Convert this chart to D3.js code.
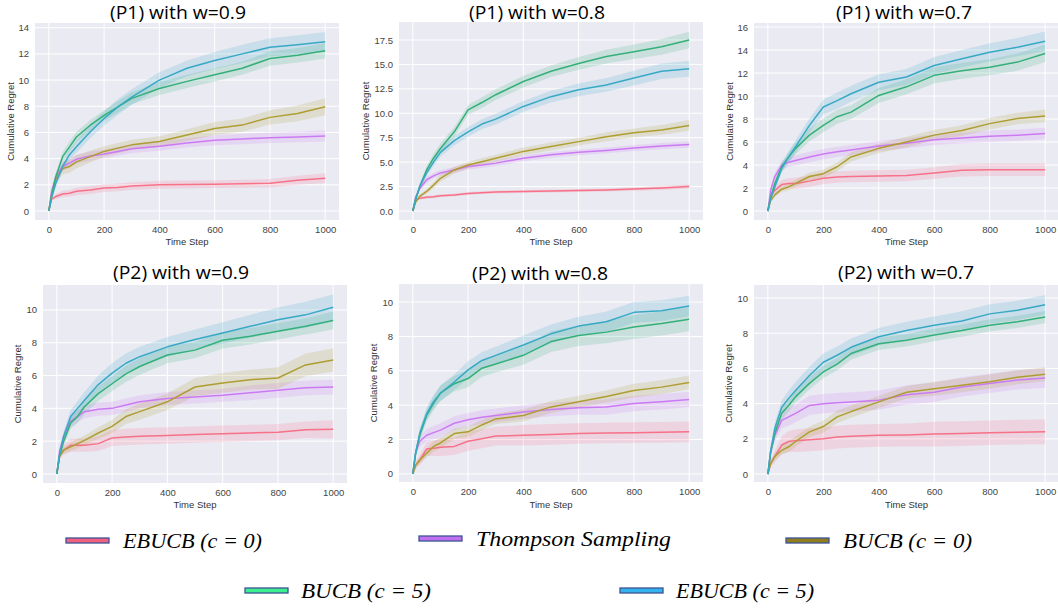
<!DOCTYPE html>
<html>
<head>
<meta charset="utf-8">
<script src="https://cdn.jsdelivr.net/npm/d3@7"></script>
<style>
  html, body { margin: 0; padding: 0; background: #ffffff; }
  svg { display: block; }
</style>
</head>
<body>
<svg id="chart" width="1058" height="608"></svg>
<script>
// ---------------- DATA ----------------
const steps = [0, 10, 25, 50, 75, 100, 150, 200, 250, 300, 400, 500, 600, 700, 800, 900, 1000];
const seriesNames = ["EBUCB (c = 0)", "Thompson Sampling", "BUCB (c = 0)", "BUCB (c = 5)", "EBUCB (c = 5)"];
const panelTitles = ["(P1) with w=0.9", "(P1) with w=0.8", "(P1) with w=0.7",
                     "(P2) with w=0.9", "(P2) with w=0.8", "(P2) with w=0.7"];
const xTicks = [0, 200, 400, 600, 800, 1000];
const yTicksP1w09 = [0, 2, 4, 6, 8, 10, 12, 14];
const yTicksP1w08 = [0, 2.5, 5, 7.5, 10, 12.5, 15, 17.5];
const yTicksP1w07 = [0, 2, 4, 6, 8, 10, 12, 14, 16];
const yTicksP2 = [0, 2, 4, 6, 8, 10];

// (P1) w=0.9 — means
const p1w09_ebucb0 = [0, 0.9, 1.1, 1.3, 1.35, 1.5, 1.6, 1.75, 1.8, 1.9, 2.0, 2.02, 2.05, 2.08, 2.12, 2.35, 2.5];
const p1w09_ts     = [0, 1.5, 2.6, 3.4, 3.65, 3.95, 4.2, 4.35, 4.55, 4.75, 4.95, 5.2, 5.4, 5.5, 5.6, 5.65, 5.72];
const p1w09_bucb0  = [0, 1.2, 2.4, 3.25, 3.4, 3.75, 4.15, 4.55, 4.8, 5.05, 5.3, 5.8, 6.3, 6.56, 7.15, 7.45, 7.96];
const p1w09_bucb5  = [0, 1.2, 2.6, 4.15, 4.9, 5.65, 6.55, 7.3, 7.95, 8.6, 9.35, 9.9, 10.4, 10.9, 11.65, 11.9, 12.24];
const p1w09_ebucb5 = [0, 1.0, 2.1, 3.4, 4.3, 4.9, 6.05, 7.07, 7.95, 8.7, 10.0, 10.9, 11.5, 12.0, 12.5, 12.7, 12.93];
// (P1) w=0.9 — band half-widths
const p1w09_ebucb0_ci = [0, 0.1, 0.2, 0.25, 0.25, 0.3, 0.3, 0.3, 0.3, 0.3, 0.3, 0.3, 0.3, 0.3, 0.32, 0.35, 0.38];
const p1w09_ts_ci     = [0, 0.2, 0.3, 0.35, 0.35, 0.35, 0.35, 0.35, 0.35, 0.35, 0.35, 0.35, 0.38, 0.4, 0.4, 0.4, 0.42];
const p1w09_bucb0_ci  = [0, 0.2, 0.3, 0.45, 0.5, 0.5, 0.45, 0.4, 0.4, 0.4, 0.4, 0.45, 0.5, 0.5, 0.55, 0.6, 0.65];
const p1w09_bucb5_ci  = [0, 0.2, 0.3, 0.35, 0.4, 0.4, 0.4, 0.4, 0.45, 0.45, 0.5, 0.5, 0.5, 0.5, 0.55, 0.55, 0.6];
const p1w09_ebucb5_ci = [0, 0.2, 0.3, 0.35, 0.4, 0.45, 0.5, 0.55, 0.6, 0.6, 0.6, 0.6, 0.65, 0.7, 0.7, 0.72, 0.75];

// (P1) w=0.8
const p1w08_ebucb0 = [0, 1.1, 1.3, 1.4, 1.45, 1.55, 1.65, 1.8, 1.88, 1.95, 2.0, 2.05, 2.1, 2.15, 2.25, 2.35, 2.5];
const p1w08_ts     = [0, 1.4, 2.3, 3.2, 3.6, 3.9, 4.2, 4.55, 4.7, 4.9, 5.4, 5.75, 6.0, 6.2, 6.45, 6.65, 6.8];
const p1w08_bucb0  = [0, 0.9, 1.5, 2.0, 2.65, 3.35, 4.2, 4.7, 5.05, 5.4, 6.1, 6.6, 7.1, 7.6, 8.0, 8.3, 8.75];
const p1w08_bucb5  = [0, 1.2, 2.5, 4.2, 5.4, 6.4, 8.1, 10.35, 11.1, 11.9, 13.25, 14.3, 15.1, 15.8, 16.3, 16.8, 17.5];
const p1w08_ebucb5 = [0, 1.1, 2.5, 3.9, 5.0, 6.0, 7.2, 8.1, 8.9, 9.4, 10.7, 11.7, 12.4, 12.9, 13.6, 14.3, 14.55];
const p1w08_ebucb0_ci = [0, 0.1, 0.15, 0.15, 0.15, 0.15, 0.15, 0.15, 0.15, 0.15, 0.15, 0.15, 0.15, 0.15, 0.18, 0.2, 0.2];
const p1w08_ts_ci     = [0, 0.2, 0.25, 0.3, 0.3, 0.3, 0.3, 0.3, 0.3, 0.3, 0.3, 0.3, 0.3, 0.3, 0.3, 0.32, 0.32];
const p1w08_bucb0_ci  = [0, 0.15, 0.2, 0.25, 0.3, 0.35, 0.35, 0.35, 0.35, 0.35, 0.4, 0.4, 0.4, 0.45, 0.45, 0.5, 0.55];
const p1w08_bucb5_ci  = [0, 0.2, 0.3, 0.4, 0.45, 0.5, 0.5, 0.5, 0.55, 0.55, 0.6, 0.6, 0.65, 0.7, 0.75, 0.8, 0.85];
const p1w08_ebucb5_ci = [0, 0.2, 0.3, 0.35, 0.4, 0.45, 0.5, 0.5, 0.5, 0.55, 0.55, 0.6, 0.65, 0.7, 0.75, 0.8, 0.8];

// (P1) w=0.7
const p1w07_ebucb0 = [0, 1.3, 1.8, 2.3, 2.4, 2.4, 2.6, 2.85, 2.95, 3.0, 3.05, 3.1, 3.3, 3.55, 3.6, 3.6, 3.6];
const p1w07_ts     = [0, 1.8, 3.0, 4.0, 4.25, 4.4, 4.7, 4.95, 5.15, 5.3, 5.65, 5.9, 6.2, 6.35, 6.5, 6.6, 6.75];
const p1w07_bucb0  = [0, 0.9, 1.4, 1.9, 2.1, 2.4, 3.0, 3.25, 3.85, 4.7, 5.45, 6.0, 6.6, 7.0, 7.6, 8.05, 8.27];
const p1w07_bucb5  = [0, 1.2, 2.4, 3.85, 4.7, 5.45, 6.6, 7.45, 8.2, 8.6, 10.05, 10.8, 11.8, 12.2, 12.5, 12.95, 13.7];
const p1w07_ebucb5 = [0, 1.1, 2.1, 3.7, 4.7, 5.6, 7.45, 9.05, 9.6, 10.2, 11.2, 11.65, 12.65, 13.25, 13.8, 14.25, 14.77];
const p1w07_ebucb0_ci = [0, 0.2, 0.3, 0.4, 0.45, 0.5, 0.5, 0.5, 0.5, 0.5, 0.5, 0.5, 0.5, 0.55, 0.55, 0.55, 0.55];
const p1w07_ts_ci     = [0, 0.2, 0.3, 0.4, 0.4, 0.45, 0.45, 0.45, 0.45, 0.45, 0.45, 0.45, 0.45, 0.45, 0.5, 0.5, 0.5];
const p1w07_bucb0_ci  = [0, 0.15, 0.2, 0.25, 0.3, 0.3, 0.35, 0.35, 0.4, 0.4, 0.4, 0.45, 0.45, 0.45, 0.5, 0.5, 0.55];
const p1w07_bucb5_ci  = [0, 0.2, 0.3, 0.4, 0.45, 0.5, 0.55, 0.6, 0.6, 0.6, 0.65, 0.65, 0.7, 0.7, 0.7, 0.75, 0.75];
const p1w07_ebucb5_ci = [0, 0.2, 0.3, 0.4, 0.5, 0.55, 0.6, 0.65, 0.7, 0.7, 0.7, 0.7, 0.75, 0.75, 0.8, 0.8, 0.85];

// (P2) w=0.9
const p2w09_ebucb0 = [0, 1.1, 1.45, 1.75, 1.75, 1.75, 1.85, 2.2, 2.25, 2.3, 2.35, 2.4, 2.45, 2.5, 2.55, 2.7, 2.72];
const p2w09_ts     = [0, 1.4, 2.3, 3.2, 3.5, 3.8, 3.95, 4.0, 4.2, 4.4, 4.6, 4.7, 4.8, 4.95, 5.1, 5.25, 5.3];
const p2w09_bucb0  = [0, 1.1, 1.45, 1.65, 1.85, 2.05, 2.5, 2.9, 3.5, 3.8, 4.4, 5.3, 5.55, 5.75, 5.85, 6.65, 6.95];
const p2w09_bucb5  = [0, 1.1, 2.0, 3.1, 3.5, 4.1, 4.9, 5.5, 6.1, 6.55, 7.25, 7.55, 8.15, 8.4, 8.7, 9.0, 9.35];
const p2w09_ebucb5 = [0, 1.2, 2.3, 3.5, 4.0, 4.5, 5.45, 6.15, 6.75, 7.15, 7.75, 8.2, 8.6, 9.0, 9.4, 9.7, 10.16];
const p2w09_ebucb0_ci = [0, 0.2, 0.3, 0.4, 0.4, 0.4, 0.45, 0.5, 0.5, 0.5, 0.5, 0.5, 0.5, 0.5, 0.5, 0.5, 0.55];
const p2w09_ts_ci     = [0, 0.2, 0.3, 0.35, 0.35, 0.4, 0.4, 0.4, 0.4, 0.4, 0.4, 0.4, 0.4, 0.45, 0.45, 0.45, 0.45];
const p2w09_bucb0_ci  = [0, 0.15, 0.2, 0.25, 0.3, 0.3, 0.35, 0.4, 0.45, 0.5, 0.5, 0.55, 0.6, 0.6, 0.65, 0.7, 0.7];
const p2w09_bucb5_ci  = [0, 0.2, 0.3, 0.35, 0.4, 0.45, 0.45, 0.45, 0.5, 0.5, 0.5, 0.5, 0.5, 0.5, 0.5, 0.5, 0.55];
const p2w09_ebucb5_ci = [0, 0.2, 0.3, 0.4, 0.45, 0.5, 0.55, 0.6, 0.6, 0.6, 0.6, 0.6, 0.65, 0.7, 0.75, 0.8, 0.8];

// (P2) w=0.8
const p2w08_ebucb0 = [0, 0.5, 0.8, 1.45, 1.5, 1.55, 1.6, 1.9, 2.05, 2.2, 2.25, 2.3, 2.35, 2.38, 2.4, 2.42, 2.45];
const p2w08_ts     = [0, 1.2, 1.9, 2.25, 2.4, 2.55, 2.95, 3.15, 3.3, 3.4, 3.6, 3.75, 3.85, 3.9, 4.1, 4.2, 4.33];
const p2w08_bucb0  = [0, 0.5, 0.8, 1.2, 1.6, 1.8, 2.35, 2.45, 2.85, 3.2, 3.4, 3.9, 4.2, 4.5, 4.85, 5.05, 5.32];
const p2w08_bucb5  = [0, 1.2, 2.25, 3.4, 4.1, 4.7, 5.25, 5.55, 6.15, 6.4, 6.9, 7.7, 8.05, 8.25, 8.55, 8.75, 9.0];
const p2w08_ebucb5 = [0, 1.2, 2.35, 3.5, 4.2, 4.7, 5.35, 6.05, 6.6, 6.9, 7.5, 8.15, 8.6, 8.85, 9.4, 9.5, 9.77];
const p2w08_ebucb0_ci = [0, 0.2, 0.3, 0.4, 0.45, 0.5, 0.5, 0.55, 0.55, 0.55, 0.6, 0.6, 0.6, 0.6, 0.6, 0.6, 0.6];
const p2w08_ts_ci     = [0, 0.2, 0.3, 0.35, 0.4, 0.4, 0.4, 0.4, 0.4, 0.4, 0.4, 0.4, 0.4, 0.45, 0.45, 0.45, 0.45];
const p2w08_bucb0_ci  = [0, 0.15, 0.2, 0.25, 0.3, 0.3, 0.3, 0.3, 0.3, 0.3, 0.35, 0.35, 0.35, 0.35, 0.4, 0.4, 0.4];
const p2w08_bucb5_ci  = [0, 0.2, 0.3, 0.35, 0.4, 0.45, 0.45, 0.5, 0.5, 0.5, 0.55, 0.6, 0.6, 0.65, 0.7, 0.7, 0.7];
const p2w08_ebucb5_ci = [0, 0.2, 0.3, 0.35, 0.4, 0.45, 0.45, 0.5, 0.5, 0.5, 0.55, 0.55, 0.55, 0.6, 0.6, 0.6, 0.6];

// (P2) w=0.7
const p2w07_ebucb0 = [0, 0.6, 1.0, 1.65, 1.85, 1.9, 1.95, 2.0, 2.1, 2.15, 2.2, 2.22, 2.27, 2.3, 2.35, 2.38, 2.4];
const p2w07_ts     = [0, 1.3, 2.2, 3.05, 3.25, 3.45, 3.9, 4.0, 4.05, 4.1, 4.2, 4.5, 4.65, 4.95, 5.15, 5.35, 5.46];
const p2w07_bucb0  = [0, 0.6, 1.0, 1.35, 1.55, 1.85, 2.4, 2.7, 3.25, 3.55, 4.1, 4.65, 4.85, 5.05, 5.25, 5.5, 5.67];
const p2w07_bucb5  = [0, 1.2, 2.3, 3.45, 3.9, 4.4, 5.15, 5.8, 6.25, 6.85, 7.4, 7.6, 7.9, 8.15, 8.45, 8.65, 8.92];
const p2w07_ebucb5 = [0, 1.3, 2.6, 3.8, 4.3, 4.75, 5.6, 6.35, 6.75, 7.2, 7.8, 8.15, 8.45, 8.7, 9.1, 9.3, 9.62];
const p2w07_ebucb0_ci = [0, 0.2, 0.35, 0.5, 0.6, 0.65, 0.65, 0.65, 0.65, 0.65, 0.65, 0.65, 0.7, 0.7, 0.7, 0.7, 0.7];
const p2w07_ts_ci     = [0, 0.25, 0.35, 0.45, 0.5, 0.5, 0.55, 0.55, 0.55, 0.55, 0.55, 0.55, 0.55, 0.55, 0.55, 0.55, 0.55];
const p2w07_bucb0_ci  = [0, 0.15, 0.2, 0.25, 0.3, 0.3, 0.3, 0.35, 0.35, 0.35, 0.35, 0.35, 0.4, 0.4, 0.4, 0.4, 0.4];
const p2w07_bucb5_ci  = [0, 0.2, 0.3, 0.35, 0.35, 0.35, 0.35, 0.35, 0.35, 0.35, 0.35, 0.35, 0.35, 0.35, 0.35, 0.35, 0.35];
const p2w07_ebucb5_ci = [0, 0.2, 0.3, 0.4, 0.45, 0.5, 0.5, 0.5, 0.5, 0.5, 0.5, 0.5, 0.5, 0.55, 0.55, 0.55, 0.55];

// ---------------- STYLE / LAYOUT ----------------
const lineColors   = ["#f77189", "#cc7af4", "#ae9d31", "#33b07a", "#38a9c5"];
const legendColors = ["#f4607f", "#c070f0", "#8f7d1e", "#3cf08e", "#33b4ee"];

const panelData = [
  { means: [p1w09_ebucb0, p1w09_ts, p1w09_bucb0, p1w09_bucb5, p1w09_ebucb5],
    cis:   [p1w09_ebucb0_ci, p1w09_ts_ci, p1w09_bucb0_ci, p1w09_bucb5_ci, p1w09_ebucb5_ci],
    yTicks: yTicksP1w09, fmt: d3.format("d") },
  { means: [p1w08_ebucb0, p1w08_ts, p1w08_bucb0, p1w08_bucb5, p1w08_ebucb5],
    cis:   [p1w08_ebucb0_ci, p1w08_ts_ci, p1w08_bucb0_ci, p1w08_bucb5_ci, p1w08_ebucb5_ci],
    yTicks: yTicksP1w08, fmt: d3.format(".1f") },
  { means: [p1w07_ebucb0, p1w07_ts, p1w07_bucb0, p1w07_bucb5, p1w07_ebucb5],
    cis:   [p1w07_ebucb0_ci, p1w07_ts_ci, p1w07_bucb0_ci, p1w07_bucb5_ci, p1w07_ebucb5_ci],
    yTicks: yTicksP1w07, fmt: d3.format("d") },
  { means: [p2w09_ebucb0, p2w09_ts, p2w09_bucb0, p2w09_bucb5, p2w09_ebucb5],
    cis:   [p2w09_ebucb0_ci, p2w09_ts_ci, p2w09_bucb0_ci, p2w09_bucb5_ci, p2w09_ebucb5_ci],
    yTicks: yTicksP2, fmt: d3.format("d") },
  { means: [p2w08_ebucb0, p2w08_ts, p2w08_bucb0, p2w08_bucb5, p2w08_ebucb5],
    cis:   [p2w08_ebucb0_ci, p2w08_ts_ci, p2w08_bucb0_ci, p2w08_bucb5_ci, p2w08_ebucb5_ci],
    yTicks: yTicksP2, fmt: d3.format("d") },
  { means: [p2w07_ebucb0, p2w07_ts, p2w07_bucb0, p2w07_bucb5, p2w07_ebucb5],
    cis:   [p2w07_ebucb0_ci, p2w07_ts_ci, p2w07_bucb0_ci, p2w07_bucb5_ci, p2w07_ebucb5_ci],
    yTicks: yTicksP2, fmt: d3.format("d") }
];

// frames: plot rect + y domain + title/label placement
const frames = [
  { x: 35,  y: 23,  w: 304, h: 197, ymin: -0.69, ymax: 14.36, tx: 178, ty: 19, ylx: 10,  xly: 245 },
  { x: 399, y: 22,  w: 304, h: 198, ymin: -0.92, ymax: 19.34, tx: 537, ty: 19, ylx: 365, xly: 245 },
  { x: 754, y: 23,  w: 305, h: 197, ymin: -0.78, ymax: 16.35, tx: 904, ty: 19, ylx: 729, xly: 245 },
  { x: 43,  y: 285, w: 304, h: 198, ymin: -0.55, ymax: 11.52, tx: 181, ty: 279, ylx: 17,  xly: 508 },
  { x: 399, y: 284, w: 304, h: 198, ymin: -0.47, ymax: 11.05, tx: 540, ty: 280, ylx: 373, xly: 508 },
  { x: 754, y: 285, w: 305, h: 197, ymin: -0.45, ymax: 10.74, tx: 906, ty: 279, ylx: 728, xly: 508 }
];

const svg = d3.select("#chart");
const tickFont = "'Liberation Sans', Arial, sans-serif";

panelData.forEach((pd, i) => {
  const f = frames[i];
  const g = svg.append("g").attr("transform", `translate(${f.x},${f.y})`);
  const x = d3.scaleLinear().domain([-50, 1050]).range([0, f.w]);
  const y = d3.scaleLinear().domain([f.ymin, f.ymax]).range([f.h, 0]);

  g.append("rect").attr("width", f.w).attr("height", f.h).attr("fill", "#eaeaf2");

  // grid
  g.append("g").selectAll("line").data(xTicks).join("line")
    .attr("x1", d => x(d)).attr("x2", d => x(d)).attr("y1", 0).attr("y2", f.h)
    .attr("stroke", "#ffffff").attr("stroke-width", 1);
  g.append("g").selectAll("line").data(pd.yTicks).join("line")
    .attr("x1", 0).attr("x2", f.w).attr("y1", d => y(d)).attr("y2", d => y(d))
    .attr("stroke", "#ffffff").attr("stroke-width", 1);

  // axes
  const xa = g.append("g").attr("transform", `translate(0,${f.h})`)
    .call(d3.axisBottom(x).tickValues(xTicks).tickSize(0).tickPadding(6).tickFormat(d3.format("d")));
  const ya = g.append("g")
    .call(d3.axisLeft(y).tickValues(pd.yTicks).tickSize(0).tickPadding(6).tickFormat(pd.fmt));
  [xa, ya].forEach(a => {
    a.select(".domain").remove();
    a.selectAll("text").attr("font-family", tickFont).attr("font-size", 9.5).attr("fill", "#444");
  });

  // bands + lines
  const clipId = "clip" + i;
  g.append("clipPath").attr("id", clipId).append("rect").attr("width", f.w).attr("height", f.h);
  const plot = g.append("g").attr("clip-path", `url(#${clipId})`);
  pd.means.forEach((m, s) => {
    const rows = steps.map((t, k) => ({ t, v: m[k], c: pd.cis[s][k] }));
    plot.append("path").datum(rows)
      .attr("d", d3.area().x(d => x(d.t)).y0(d => y(d.v - d.c)).y1(d => y(d.v + d.c)))
      .attr("fill", lineColors[s]).attr("fill-opacity", 0.18);
  });
  pd.means.forEach((m, s) => {
    const rows = steps.map((t, k) => ({ t, v: m[k] }));
    plot.append("path").datum(rows)
      .attr("d", d3.line().x(d => x(d.t)).y(d => y(d.v)))
      .attr("fill", "none").attr("stroke", lineColors[s]).attr("stroke-width", 1.5)
      .attr("stroke-linejoin", "round");
  });

  // labels
  svg.append("text").attr("x", f.tx).attr("y", f.ty).attr("text-anchor", "middle")
    .attr("font-family", "'Open Sans', 'Noto Sans', sans-serif").attr("font-size", 18)
    .attr("fill", "#000").attr("textLength", 136).attr("lengthAdjust", "spacingAndGlyphs")
    .text(panelTitles[i]);
  svg.append("text").attr("transform", `translate(${f.ylx},${f.y + f.h / 2}) rotate(-90)`)
    .attr("text-anchor", "middle").attr("dominant-baseline", "central")
    .attr("font-family", tickFont).attr("font-size", 9.5).attr("fill", "#333")
    .text("Cumulative Regret");
  svg.append("text").attr("x", f.x + x(500)).attr("y", f.xly).attr("text-anchor", "middle")
    .attr("font-family", tickFont).attr("font-size", 9.5).attr("fill", "#333")
    .text("Time Step");
});

// ---------------- LEGEND ----------------
const legendPos = [
  { sx: 66,  sy: 538, tx: 123, ty: 548, tw: 139 },
  { sx: 419, sy: 536, tx: 476, ty: 546, tw: 195 },
  { sx: 786, sy: 538, tx: 843, ty: 548, tw: 129 },
  { sx: 245, sy: 588, tx: 301, ty: 598, tw: 130 },
  { sx: 620, sy: 588, tx: 676, ty: 598, tw: 138 }
];
seriesNames.forEach((name, s) => {
  const p = legendPos[s];
  svg.append("rect").attr("x", p.sx).attr("y", p.sy).attr("width", 43).attr("height", 5)
    .attr("fill", legendColors[s]).attr("stroke", "#3d5394").attr("stroke-width", 1.3);
  svg.append("text").attr("x", p.tx).attr("y", p.ty)
    .attr("font-family", "'Liberation Serif', 'DejaVu Serif', serif").attr("font-style", "italic")
    .attr("font-size", 21).attr("fill", "#000")
    .attr("textLength", p.tw).attr("lengthAdjust", "spacingAndGlyphs")
    .text(name);
});
</script>
</body>
</html>
